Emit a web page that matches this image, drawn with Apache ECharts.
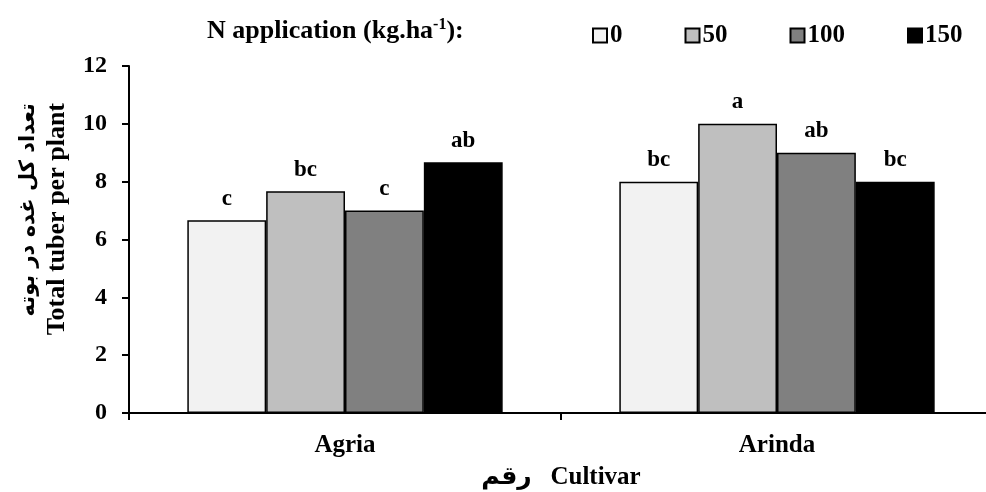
<!DOCTYPE html>
<html>
<head>
<meta charset="utf-8">
<script src="https://cdn.jsdelivr.net/npm/echarts@6/dist/echarts.min.js"></script>
<style>
  html, body { margin: 0; padding: 0; background: #fff; }
  #chart { width: 986px; height: 492px; }
</style>
</head>
<body>
<div id="chart"></div>
<script>
"use strict";

// داده‌ها
const cultivars = ["Agria", "Arinda"];
const nLevels = ["0", "50", "100", "150"];
const n0 = [6.67, 8.0];
const n50 = [7.67, 10.0];
const n100 = [7.0, 9.0];
const n150 = [8.67, 8.0];
const letters0 = ["c", "bc"];
const letters50 = ["bc", "a"];
const letters100 = ["c", "ab"];
const letters150 = ["ab", "bc"];
const barColors = ["#f2f2f2", "#bfbfbf", "#808080", "#000000"];

const FONT = "'Times New Roman', 'Liberation Serif', 'DejaVu Sans', serif";

function makeSeries(name, values, letters, color) {
  return {
    name: name,
    type: "bar",
    barGap: "0%",
    barCategoryGap: "27%",
    data: values,
    itemStyle: { color: color, borderColor: "#000", borderWidth: 1.5 },
    label: {
      show: true,
      position: "top",
      distance: 10,
      formatter: (p) => letters[p.dataIndex],
      fontFamily: FONT,
      fontWeight: "bold",
      fontSize: 23,
      color: "#000",
    },
  };
}

const myChart = echarts.init(document.getElementById("chart"));
const option = {
  animation: false,
  backgroundColor: "#fff",
  textStyle: { fontFamily: FONT },
  title: {
    left: 202,
    top: 12,
    text: "{a|N application (kg.ha}{s|-1}{a|):}",
    textStyle: {
      rich: {
        a: { fontFamily: FONT, fontWeight: "bold", fontSize: 26, color: "#000", verticalAlign: "bottom" },
        s: { fontFamily: FONT, fontWeight: "bold", fontSize: 16, color: "#000", verticalAlign: "top", padding: [0, 0, 11, 0] },
      },
    },
  },
  legend: {
    left: 587,
    top: 18,
    itemWidth: 14,
    itemHeight: 14,
    itemGap: 62,
    icon: "rect",
    textStyle: { fontFamily: FONT, fontWeight: "bold", fontSize: 25, color: "#000", padding: [0, 0, 0, -2] },
    data: nLevels,
  },
  grid: { left: 129, right: -7, top: 66, bottom: 79, outerBoundsMode: "none" },
  xAxis: {
    type: "category",
    data: cultivars,
    axisLine: { lineStyle: { color: "#000", width: 2 } },
    axisTick: { show: true, length: 7, lineStyle: { color: "#000", width: 2 } },
    axisLabel: { fontFamily: FONT, fontWeight: "bold", fontSize: 25, color: "#000", margin: 20 },
    name: "رقم   Cultivar",
    nameLocation: "middle",
    nameGap: 52,
    nameTextStyle: { fontFamily: FONT, fontWeight: "bold", fontSize: 25, color: "#000" },
  },
  yAxis: {
    type: "value",
    min: 0,
    max: 12,
    interval: 2,
    splitLine: { show: false },
    axisLine: { show: true, lineStyle: { color: "#000", width: 2 } },
    axisTick: { show: true, length: 7, lineStyle: { color: "#000", width: 2 } },
    axisLabel: { fontFamily: FONT, fontWeight: "bold", fontSize: 24, color: "#000", margin: 22 },
  },
  graphic: [
    {
      type: "text",
      x: 29,
      y: 103,
      rotation: Math.PI / 2,
      style: {
        text: "تعداد کل غده در بوته",
        font: "bold 21px 'DejaVu Sans', sans-serif",
        fill: "#000",
        align: "right",
        verticalAlign: "middle",
      },
    },
    {
      type: "text",
      x: 57,
      y: 103,
      rotation: Math.PI / 2,
      style: {
        text: "Total tuber per plant",
        font: "bold 26px 'Times New Roman', 'Liberation Serif', serif",
        fill: "#000",
        align: "right",
        verticalAlign: "middle",
      },
    },
  ],
  series: [
    makeSeries(nLevels[0], n0, letters0, barColors[0]),
    makeSeries(nLevels[1], n50, letters50, barColors[1]),
    makeSeries(nLevels[2], n100, letters100, barColors[2]),
    makeSeries(nLevels[3], n150, letters150, barColors[3]),
  ],
};
myChart.setOption(option);

window.onresize = function () {
  myChart.resize();
};
</script>
</body>
</html>
